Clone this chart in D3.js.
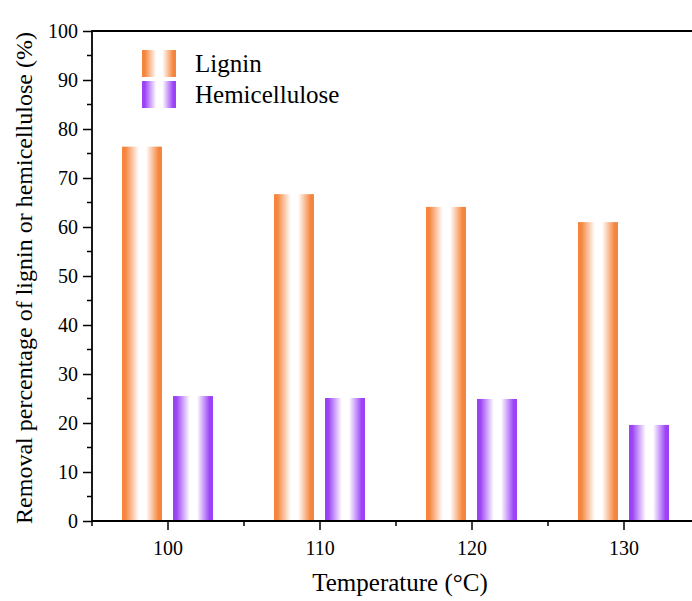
<!DOCTYPE html>
<html>
<head>
<meta charset="utf-8">
<script src="https://cdn.jsdelivr.net/npm/d3@7"></script>
<style>
  html, body { margin: 0; padding: 0; background: #fff; }
  svg { display: block; font-family: "Liberation Serif", "Times New Roman", serif; }
  svg text { font-family: "Liberation Serif", "Times New Roman", serif !important; }
</style>
</head>
<body>
<svg id="chart" width="692" height="601"></svg>
<script>
// Removal of lignin and hemicellulose at each pretreatment temperature
const temperatures = ["100", "110", "120", "130"];
const seriesNames = ["Lignin", "Hemicellulose"];
const ligninRemoval = [76.4, 66.7, 64.1, 61.0];
const hemicelluloseRemoval = [25.5, 25.1, 24.9, 19.6];
const yTicks = [0, 10, 20, 30, 40, 50, 60, 70, 80, 90, 100];
const seriesColors = ["#F5843C", "#9B42F6"];

const svg = d3.select("#chart");
const margin = { left: 92, top: 31, right: 700, bottom: 521 };

const x = d3.scaleBand().domain(temperatures)
  .range([margin.left, margin.right]).paddingInner(0).paddingOuter(0);
const y = d3.scaleLinear().domain([0, 100]).range([margin.bottom, margin.top]);

// Mirrored colour-to-white gradients for the bars
const defs = svg.append("defs");
seriesColors.forEach((c, i) => {
  const g = defs.append("linearGradient").attr("id", "grad" + i)
    .attr("x1", "0%").attr("x2", "100%").attr("y1", "0%").attr("y2", "0%");
  [[0, c], [0.08, c], [0.42, "#ffffff"], [0.6, "#ffffff"], [0.92, c], [1, c]]
    .forEach(([o, col]) => g.append("stop").attr("offset", o).attr("stop-color", col));
});

const barWidth = 40;
const series = [ligninRemoval, hemicelluloseRemoval];
const offsets = [-26, 25];

series.forEach((vals, si) => {
  svg.append("g").selectAll("rect").data(vals).join("rect")
    .attr("x", (d, i) => x(temperatures[i]) + x.bandwidth() / 2 + offsets[si] - barWidth / 2)
    .attr("y", d => y(d))
    .attr("width", barWidth)
    .attr("height", d => y(0) - y(d))
    .attr("fill", `url(#grad${si})`);
});

// Axes
const yAxis = d3.axisLeft(y).tickValues(yTicks).tickSize(9).tickPadding(5);
const gy = svg.append("g").attr("transform", `translate(${margin.left},0)`).call(yAxis);
gy.select(".domain").remove();
gy.selectAll("text").attr("font-size", 20).attr("fill", "#000");
gy.selectAll("line").attr("stroke", "#000").attr("stroke-width", 1.5);

// minor y ticks
svg.append("g").selectAll("line").data(d3.range(5, 100, 10)).join("line")
  .attr("x1", margin.left - 5).attr("x2", margin.left)
  .attr("y1", d => y(d)).attr("y2", d => y(d))
  .attr("stroke", "#000").attr("stroke-width", 1.5);

const xAxis = d3.axisBottom(x).tickSize(9).tickPadding(11);
const gx = svg.append("g").attr("transform", `translate(0,${margin.bottom})`).call(xAxis);
gx.select(".domain").remove();
gx.selectAll("text").attr("font-size", 20).attr("fill", "#000");
gx.selectAll("line").attr("stroke", "#000").attr("stroke-width", 1.5);

// minor x ticks at category boundaries
const boundaries = temperatures.map(t => x(t)).concat([x(temperatures[temperatures.length - 1]) + x.bandwidth()]);
svg.append("g").selectAll("line").data(boundaries).join("line")
  .attr("x1", d => d).attr("x2", d => d)
  .attr("y1", margin.bottom).attr("y2", margin.bottom + 5)
  .attr("stroke", "#000").attr("stroke-width", 1.5);

// Frame lines
svg.append("line").attr("x1", margin.left).attr("x2", margin.left)
  .attr("y1", margin.top).attr("y2", margin.bottom + 0.75)
  .attr("stroke", "#000").attr("stroke-width", 1.8);
svg.append("line").attr("x1", margin.left - 0.9).attr("x2", margin.right)
  .attr("y1", margin.bottom).attr("y2", margin.bottom)
  .attr("stroke", "#000").attr("stroke-width", 1.8);
svg.append("line").attr("x1", margin.left - 0.9).attr("x2", margin.right)
  .attr("y1", margin.top).attr("y2", margin.top)
  .attr("stroke", "#000").attr("stroke-width", 1.8);

// Axis titles
svg.append("text").attr("x", 400).attr("y", 591).attr("text-anchor", "middle")
  .attr("font-size", 25).attr("fill", "#000").text("Temperature (°C)");
svg.append("text").attr("transform", `translate(32,${(margin.top + margin.bottom) / 2 + 2}) rotate(-90)`)
  .attr("text-anchor", "middle").attr("font-size", 24).attr("fill", "#000")
  .text("Removal percentage of lignin or hemicellulose (%)");

// Legend
const legend = svg.append("g");
seriesNames.forEach((name, i) => {
  const ly = 50 + i * 31;
  legend.append("rect").attr("x", 142).attr("y", ly).attr("width", 34).attr("height", 27)
    .attr("fill", `url(#grad${i})`);
  legend.append("text").attr("x", 195).attr("y", ly + 22).attr("font-size", 25)
    .attr("fill", "#000").text(name);
});
</script>
</body>
</html>
